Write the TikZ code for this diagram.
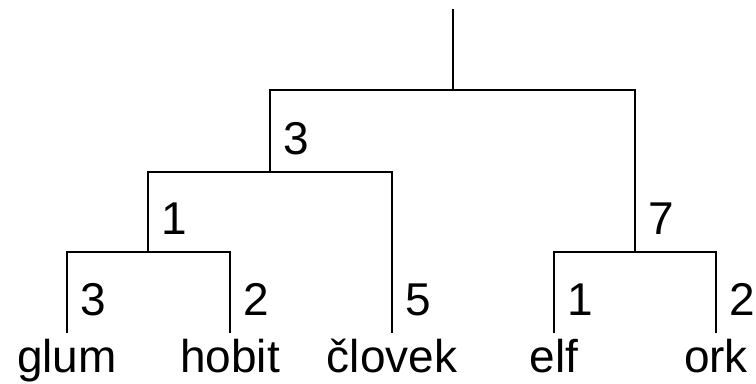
\documentclass[tikz,border=0pt]{standalone}
\usepackage{fontspec}
\setmainfont{Liberation Sans}
\usepackage{tikz}
\usetikzlibrary{positioning}

\begin{document}
\begin{tikzpicture}[x=0.025cm,y=-0.025cm,line width=1.4pt,
    font=\fontsize{32.7}{39}\selectfont,
    leaf/.style={anchor=north,inner sep=3.2pt,text height=24.5pt,text depth=8pt},
    wt/.style={anchor=base west,inner sep=0pt}]
  \useasboundingbox (0,0) rectangle (756,383);
  % junctions
  \coordinate (root) at (453,9);
  \coordinate (n0) at (453,90);
  \coordinate (n1) at (270,172);
  \coordinate (n2) at (148,252);
  \coordinate (n3) at (635,252);
  % leaves
  \node[leaf] (glum) at (67,333) {glum};
  \node[leaf] (hobit) at (230,333) {hobit};
  \node[leaf] (clovek) at (392,333) {človek};
  \node[leaf] (elf) at (554,333) {elf};
  \node[leaf] (ork) at (716,333) {ork};
  % branches
  \draw (root) -- (n0);
  \draw (n1) |- (n0) -| (n3);
  \draw (n2) |- (n1) -| (clovek.north);
  \draw (glum.north) |- (n2) -| (hobit.north);
  \draw (elf.north) |- (n3) -| (ork.north);
  % weights
  \node[wt] (wglum) at ([shift={(13,-18)}]glum.north) {3};
  \node[wt] (whobit) at ([shift={(13,-18)}]hobit.north) {2};
  \node[wt] (wclovek) at ([shift={(13,-18)}]clovek.north) {5};
  \node[wt] (welf) at ([shift={(13,-18)}]elf.north) {1};
  \node[wt] (work) at ([shift={(13,-18)}]ork.north) {2};
  \node[wt] (wn2) at ([shift={(13,-18)}]n2) {1};
  \node[wt] (wn1) at ([shift={(13,-18)}]n1) {3};
  \node[wt] (wn3) at ([shift={(13,-18)}]n3) {7};
\end{tikzpicture}
\end{document}
